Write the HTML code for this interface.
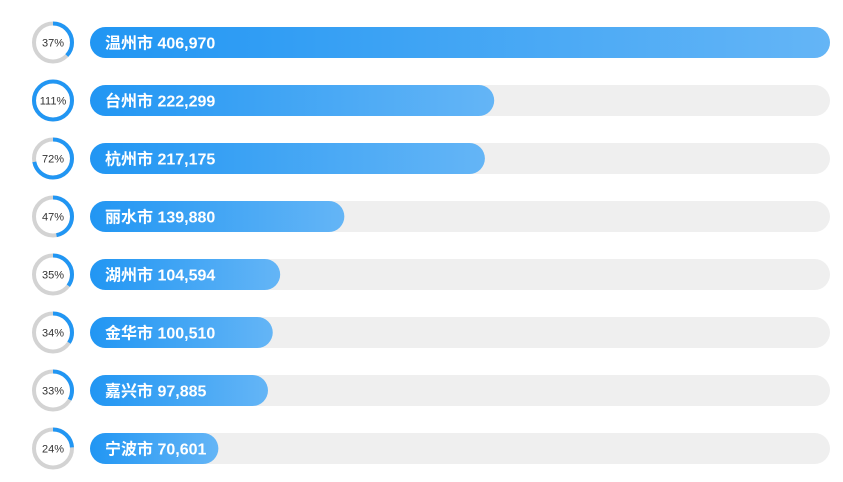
<!DOCTYPE html>
<html><head><meta charset="utf-8"><style>
body{margin:0;background:#fff;width:843px;height:477px;overflow:hidden;font-family:"Liberation Sans","Noto Sans CJK SC",sans-serif;}
</style></head><body>
<svg id="chart" width="843" height="477" xmlns="http://www.w3.org/2000/svg">
<defs>
<linearGradient id="g" x1="0" x2="1" y1="0" y2="0"><stop offset="0" stop-color="#2196f3"/><stop offset="1" stop-color="#64b5f6"/></linearGradient>
</defs>
</svg>
<script>
const cities=["温州市","台州市","杭州市","丽水市","湖州市","金华市","嘉兴市","宁波市"];
const values=[406970,222299,217175,139880,104594,100510,97885,70601];
const percents=[37,111,72,47,35,34,33,24];
const svg=document.getElementById('chart');
const NS='http://www.w3.org/2000/svg';
const x0=90,W=740,H=31,top0=27,step=58;
const maxV=Math.max(...values);
function xs(v){return v/maxV*W;}
function ys(i){return top0+i*step;}
function mk(t,a){const e=document.createElementNS(NS,t);for(const k in a)e.setAttribute(k,a[k]);svg.appendChild(e);return e;}
cities.forEach((c,i)=>{
  const y=ys(i);
  const bg=mk('rect',{x:x0,y:y,width:W,height:H,rx:H/2,fill:'#efefef'});
  
  
  const b=mk('rect',{x:x0,y:y,width:xs(values[i]),height:H,rx:H/2,fill:'url(#g)'});
  
  
  const t=mk('text',{x:x0+15,y:y+H/2+6,fill:'#fff','font-size':16,'font-weight':'bold'});
  t.textContent=c+' '+values[i].toLocaleString('en-US');
  
  
  const cx=53,cy=y+H/2,r=19;
  const ring=mk('circle',{cx:cx,cy:cy,r:r,fill:'none',stroke:'#d3d3d3','stroke-width':4});
  
  
  const C=2*Math.PI*r,p=Math.min(percents[i],100)/100;
  const arc=mk('circle',{cx:cx,cy:cy,r:r,fill:'none',stroke:'#2196f3','stroke-width':4,'stroke-dasharray':(C*p)+' '+C,transform:`rotate(-90 ${cx} ${cy})`});
  
  
  const pt=mk('text',{x:cx,y:cy+4,'text-anchor':'middle',fill:'#333','font-size':11});
  pt.textContent=percents[i]+'%';
  
  
});
</script>
</body></html>
